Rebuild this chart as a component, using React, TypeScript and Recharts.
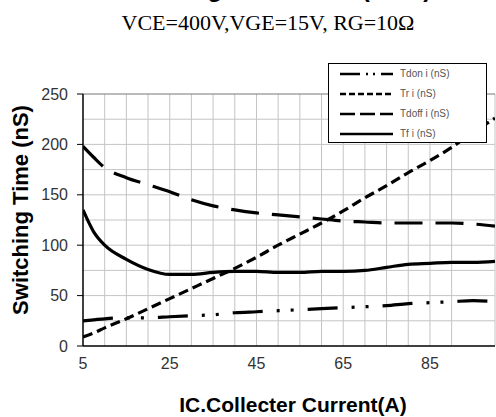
import React from "react";
import {
  LineChart,
  Line,
  XAxis,
  YAxis,
  CartesianGrid,
  ReferenceLine,
  Legend,
} from "recharts";

// IC (A)
const current = [5, 7.5, 10, 15, 20, 25, 30, 35, 40, 45, 50, 55, 60, 65, 70, 75, 80, 85, 90, 95, 100];
// switching times (nS)
const tdon = [25, 26, 27, 28, 28, 29, 30, 31, 33, 34, 35, 36, 37, 38, 39, 40, 42, 43, 44, 45, 44];
const tr = [9, 13, 18, 27, 37, 47, 57, 67, 77, 88, 100, 111, 122, 134, 147, 159, 172, 184, 197, 212, 226];
const tdoff = [198, 187, 177, 167, 160, 153, 145, 139, 135, 132, 130, 128, 126, 124, 123, 122, 122, 122, 122, 121, 119];
const tf = [135, 113, 100, 86, 76, 71, 71, 73, 74, 74, 73, 73, 74, 74, 75, 78, 81, 82, 83, 83, 84];

const xTicks = [5, 25, 45, 65, 85];
const yTicks = [0, 50, 100, 150, 200, 250];
const xGrid = [10, 15, 20, 25, 30, 35, 40, 45, 50, 55, 60, 65, 70, 75, 80, 85, 90, 95, 100];
const yGrid = [25, 50, 75, 100, 125, 150, 175, 200, 225];

const series = [
  { key: "tdon", name: "Tdon i (nS)", dash: "30 14 3 11 3 14", legendDash: "20 6 2 5 2 6" },
  { key: "tr", name: "Tr i (nS)", dash: "10 5", legendDash: "6 3" },
  { key: "tdoff", name: "Tdoff i (nS)", dash: "28 13", legendDash: "15 5" },
  { key: "tf", name: "Tf i (nS)", dash: undefined, legendDash: undefined },
];

const rows = current.map((c, i) => ({
  current: c,
  tdon: tdon[i],
  tr: tr[i],
  tdoff: tdoff[i],
  tf: tf[i],
}));

const sans = "Arial, 'Liberation Sans', sans-serif";

function LegendBox() {
  return (
    <div
      style={{
        width: 159,
        height: 80,
        boxSizing: "border-box",
        border: "1px solid #000",
        background: "#fff",
        position: "relative",
      }}
    >
      {series.map((s, i) => (
        <div key={s.key} style={{ position: "absolute", left: 0, top: 10 + i * 20 - 7, height: 14, width: 157 }}>
          <svg width={60} height={14} style={{ position: "absolute", left: 11, top: 0 }}>
            <line x1={0} y1={7} x2={53} y2={7} stroke="#000" strokeWidth={2.5} strokeDasharray={s.legendDash} />
          </svg>
          <span
            style={{
              position: "absolute",
              left: 71,
              top: 0,
              lineHeight: "14px",
              fontSize: 10,
              fontFamily: sans,
              color: "#555",
              whiteSpace: "nowrap",
            }}
          >
            {s.name}
          </span>
        </div>
      ))}
    </div>
  );
}

export default function App() {
  return (
    <div style={{ position: "absolute", left: 0, top: 0, width: 496, height: 417, overflow: "hidden", background: "#fff" }}>
      <svg width={496} height={417} style={{ position: "absolute", left: 0, top: 0 }}>
        <text x={270} y={-3} textAnchor="middle" fontFamily={sans} fontWeight="bold" fontSize={24} fill="#000">
          Switching Time vs. IC (25°C)
        </text>
        <text x={268} y={30} textAnchor="middle" fontFamily="'Times New Roman', 'Liberation Serif', serif" fontSize={22} fill="#000">
          VCE=400V,VGE=15V, RG=10Ω
        </text>
        <text
          x={28}
          y={210}
          transform="rotate(-90 28 210)"
          textAnchor="middle"
          fontFamily={sans}
          fontWeight="bold"
          fontSize={22}
          fill="#000"
        >
          Switching Time (nS)
        </text>
        <text x={293} y={412} textAnchor="middle" fontFamily={sans} fontWeight="bold" fontSize={21} fill="#000">
          IC.Collecter Current(A)
        </text>
      </svg>
      <div style={{ position: "absolute", left: 0, top: 0 }}>
        <LineChart width={496} height={417} data={rows} margin={{ top: 94, right: 1, bottom: 41, left: 0 }}>
          <CartesianGrid
            stroke="#c4c4c4"
            strokeWidth={1}
            verticalValues={xGrid}
            horizontalValues={yGrid}
          />
          <ReferenceLine y={250} stroke="#777" strokeWidth={1.2} />
          <XAxis
            dataKey="current"
            type="number"
            domain={[5, 100]}
            ticks={xTicks}
            allowDataOverflow
            height={30}
            tickLine={false}
            tickSize={0}
            tickMargin={12}
            axisLine={{ stroke: "#000", strokeWidth: 1.5 }}
            tick={{ fontSize: 16, fill: "#333", fontFamily: sans }}
          />
          <YAxis
            type="number"
            domain={[0, 250]}
            ticks={yTicks}
            width={83}
            tickSize={6}
            tickMargin={9}
            tickLine={{ stroke: "#000" }}
            axisLine={{ stroke: "#000", strokeWidth: 1.5 }}
            tick={{ fontSize: 16, fill: "#333", fontFamily: sans }}
          />
          {series.map((s) => (
            <Line
              key={s.key}
              dataKey={s.key}
              name={s.name}
              type="monotone"
              stroke="#000"
              strokeWidth={3.2}
              strokeDasharray={s.dash}
              dot={false}
              activeDot={false}
              isAnimationActive={false}
            />
          ))}
          <Legend
            layout="vertical"
            align="center"
            verticalAlign="middle"
            wrapperStyle={{ left: 328, top: 63, width: 159, height: 80 }}
            content={() => <LegendBox />}
          />
        </LineChart>
      </div>
    </div>
  );
}
